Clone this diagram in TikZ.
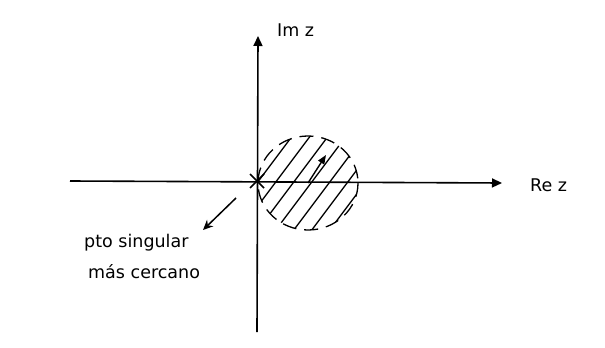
\documentclass[tikz,border=0pt]{standalone}
\usepackage{fontspec}
\setmainfont{DejaVu Sans}
\usetikzlibrary{arrows.meta,shapes.geometric,calc}
\begin{document}
\begin{tikzpicture}[x=1pt,y=-1pt,
  axis/.style={line width=1.6pt,-{Triangle[length=10pt,width=9pt]}},
  lbl/.style={inner sep=0pt,font=\fontsize{17.5}{20}\selectfont},
  hatch/.style={line width=1.3pt},
  ]
\useasboundingbox (0,0) rectangle (605,348);
\coordinate (O) at (257,181);
\coordinate (xl) at (70,181);
\coordinate (xr) at (502,183);
\coordinate (yb) at (257,332);
\coordinate (yt) at (258,36);
\draw[axis] (xl) -- (xr);
\draw[axis] (yb) -- (yt);
\node[lbl,anchor=west] (re) at (530,185) {Re z};
\node[lbl,anchor=west] (im) at (277,30) {Im z};
% singular point
\draw[line width=1.7pt] (250,174) -- (264,188) (264,174) -- (250,188);
% disk
\coordinate (C) at (308,183);
\begin{scope}
\clip (C) ellipse [x radius=50, y radius=47];
\foreach \i in {-6,...,6} {
  \draw[hatch] ($(C)+(\i*18-60,60)$) -- ($(C)+(\i*18+30,-60)$);
}
\end{scope}
\draw[line width=1.3pt,dash pattern=on 14pt off 8pt] (C) ellipse [x radius=50, y radius=47];
\coordinate (R) at (326,155);
\draw[line width=1.4pt,-{Triangle[length=9pt,width=7pt]}] (C) -- (R);
% label
\node[lbl,anchor=west] (l1) at (84,243) {pto singular};
\node[lbl,anchor=west] (l2) at (88,272) {más cercano};
\coordinate (p1) at (236,198);
\coordinate (p2) at (203,230);
\draw[line width=1.5pt,-{Stealth[length=10pt,width=9pt]}] (p1) -- (p2);
\end{tikzpicture}
\end{document}
